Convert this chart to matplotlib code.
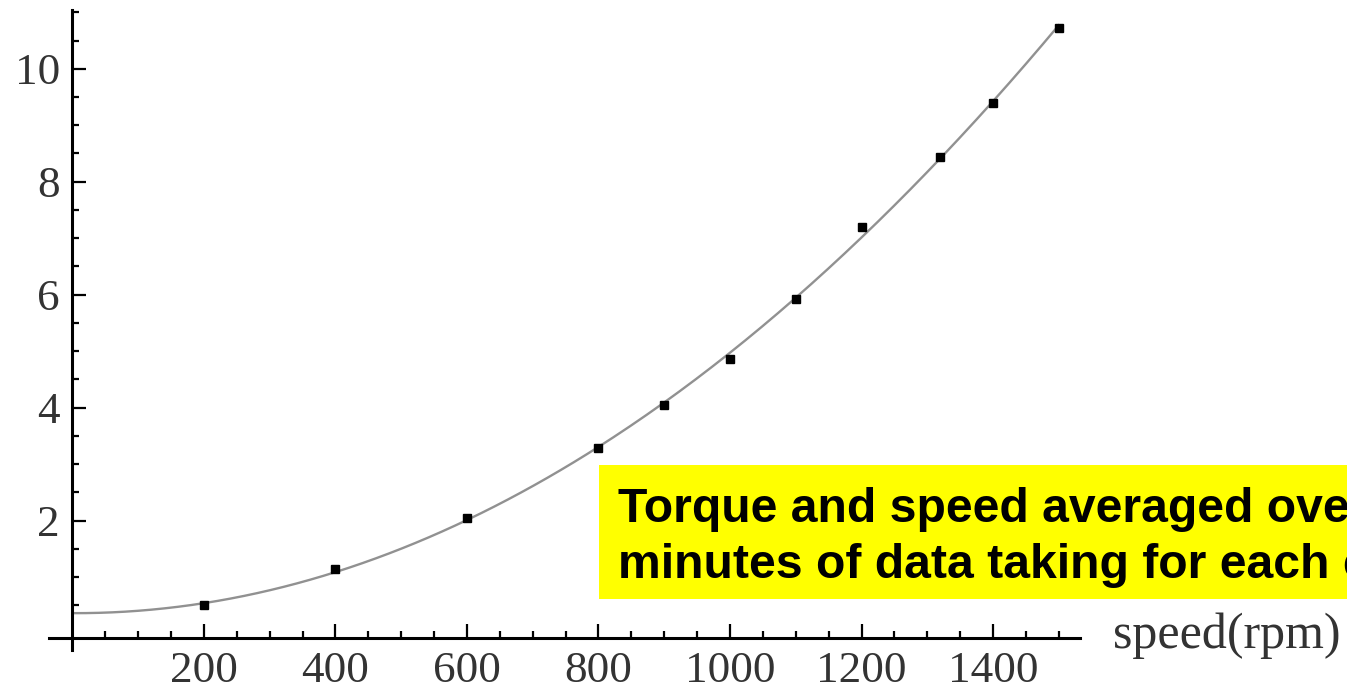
import numpy as np
import matplotlib
matplotlib.use("Agg")
import matplotlib.pyplot as plt
from matplotlib.patches import Rectangle
from matplotlib.ticker import FixedLocator

# ---- data ----
speed = [200, 400, 600, 800, 900, 1000, 1100, 1200, 1320, 1400, 1500]
torque = [0.51, 1.14, 2.05, 3.28, 4.05, 4.86, 5.92, 7.20, 8.44, 9.40, 10.73]
x_major = [200, 400, 600, 800, 1000, 1200, 1400]
y_major = [2, 4, 6, 8, 10]
x_label = "speed(rpm)"
note_lines = ["Torque and speed averaged over", "minutes of data taking for each c"]

W, H = 1347, 691
fig = plt.figure(figsize=(W / 100, H / 100), dpi=100)

# axes placed in pixel terms
left_px, right_px = 48.8, 1079.8
top_px, bottom_px = 10, 650
ax = fig.add_axes([left_px / W, (H - bottom_px) / H,
                   (right_px - left_px) / W, (bottom_px - top_px) / H])
ax.set_xlim(-36, 1532)
ax.set_ylim(-0.29, 11.04)

# quadratic fit through the measured points
coef = np.polyfit(speed, torque, 2)
xs = np.linspace(0, 1500, 300)
ax.plot(xs, np.polyval(coef, xs), color="#919191", lw=1.7, zorder=2)
ax.plot(speed, torque, linestyle="none", marker="s", ms=5.3,
        color="black", zorder=3)

# Mathematica-like crossing axes
for s in ("top", "right"):
    ax.spines[s].set_visible(False)
ax.spines["left"].set_position(("data", 0))
ax.spines["bottom"].set_position(("data", -0.08))
for s in ("left", "bottom"):
    ax.spines[s].set_linewidth(2.2)
    ax.spines[s].set_color("black")

ax.xaxis.set_major_locator(FixedLocator(x_major))
ax.xaxis.set_minor_locator(FixedLocator([v for v in range(50, 1501, 50) if v not in x_major]))
ax.yaxis.set_major_locator(FixedLocator(y_major))
ax.yaxis.set_minor_locator(FixedLocator([v / 2 for v in range(1, 23) if (v / 2) not in y_major]))

ax.tick_params(axis="both", which="major", direction="in", length=10, width=1.6,
               labelsize=32.5, labelcolor="#333333", color="black")
ax.tick_params(axis="both", which="minor", direction="in", length=5, width=1.6,
               color="black")
ax.tick_params(axis="x", which="major", pad=9.5)
ax.tick_params(axis="y", which="major", pad=9)
for lab in ax.get_xticklabels() + ax.get_yticklabels():
    lab.set_family("Liberation Serif")

fig.text(1113 / W, (H - 648) / H, x_label, family="Liberation Serif",
         fontsize=36, color="#333333", ha="left", va="baseline")

# yellow annotation box (clipped by the figure edge)
fig.add_artist(Rectangle((599 / W, (H - 599) / H), (W - 599) / W + 0.01,
                         (599 - 465) / H, transform=fig.transFigure,
                         facecolor="#ffff00", edgecolor="none", zorder=5))
fig.text(618 / W, (H - 522) / H, note_lines[0], family="Liberation Sans",
         weight="bold", fontsize=34.7, color="black", ha="left",
         va="baseline", zorder=6)
fig.text(618 / W, (H - 578) / H, note_lines[1], family="Liberation Sans",
         weight="bold", fontsize=34.7, color="black", ha="left",
         va="baseline", zorder=6)

fig.savefig("out.png", dpi=100)
